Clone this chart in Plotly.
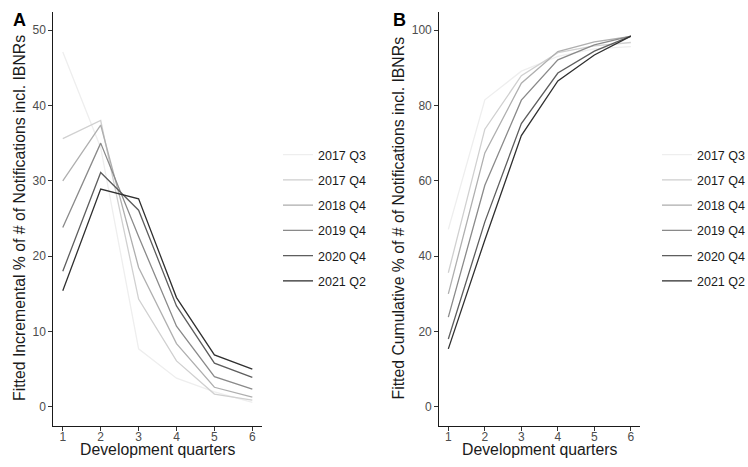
import plotly.graph_objects as go

# ---- data ----
dev_quarters = [1, 2, 3, 4, 5, 6]
cohorts = ["2017 Q3", "2017 Q4", "2018 Q4", "2019 Q4", "2020 Q4", "2021 Q2"]

# Panel A: fitted incremental %
inc_2017_q3 = [47.1, 34.4, 7.7, 3.8, 2.0, 0.6]
inc_2017_q4 = [35.6, 38.0, 14.3, 6.1, 1.7, 0.9]
inc_2018_q4 = [30.0, 37.4, 18.5, 8.4, 2.6, 1.3]
inc_2019_q4 = [23.8, 35.0, 22.6, 10.7, 4.0, 2.35]
inc_2020_q4 = [18.0, 31.1, 26.1, 13.4, 5.8, 3.9]
inc_2021_q2 = [15.4, 28.9, 27.6, 14.5, 6.9, 5.0]

# Panel B: fitted cumulative %
cum_2017_q3 = [47.1, 81.5, 89.1, 93.0, 95.0, 95.6]
cum_2017_q4 = [35.6, 73.7, 87.9, 94.0, 95.8, 96.7]
cum_2018_q4 = [30.0, 67.4, 85.9, 94.3, 96.9, 98.3]
cum_2019_q4 = [23.8, 58.8, 81.4, 92.1, 96.1, 98.4]
cum_2020_q4 = [18.0, 49.1, 75.2, 88.6, 94.4, 98.4]
cum_2021_q2 = [15.4, 44.3, 72.0, 86.5, 93.4, 98.4]

incremental = [inc_2017_q3, inc_2017_q4, inc_2018_q4, inc_2019_q4, inc_2020_q4, inc_2021_q2]
cumulative = [cum_2017_q3, cum_2017_q4, cum_2018_q4, cum_2019_q4, cum_2020_q4, cum_2021_q2]

inc_ticks = [0, 10, 20, 30, 40, 50]
cum_ticks = [0, 20, 40, 60, 80, 100]

# ---- style ----
W, H = 748, 467
FONT = "Liberation Sans, Arial, Helvetica, sans-serif"
colors = ["#EEEEEE", "#D0D0D0", "#AFAFAF", "#8A8A8A", "#5E5E5E", "#303030"]

def px_x(p):
    return p / W

def px_y(p):
    return (H - p) / H

fig = go.Figure()
for i, name in enumerate(cohorts):
    fig.add_trace(go.Scatter(
        x=dev_quarters, y=incremental[i], mode="lines", name=name,
        line=dict(color=colors[i], width=1.3),
        xaxis="x", yaxis="y", legend="legend", legendgroup=f"a{i}",
    ))
for i, name in enumerate(cohorts):
    fig.add_trace(go.Scatter(
        x=dev_quarters, y=cumulative[i], mode="lines", name=name,
        line=dict(color=colors[i], width=1.3),
        xaxis="x2", yaxis="y2", legend="legend2", legendgroup=f"b{i}",
    ))

axis_common = dict(
    showline=True, linecolor="#1a1a1a", linewidth=1.1,
    ticks="outside", ticklen=4, tickwidth=1, tickcolor="#333333",
    showgrid=False, zeroline=False, automargin=False,
    tickfont=dict(family=FONT, size=12, color="#4D4D4D"),
)
xaxis_extra = dict(ticklabelstandoff=-4)

ydom = [px_y(425.7), px_y(12)]

legend_common = dict(
    xanchor="left", yanchor="top", bgcolor="rgba(0,0,0,0)",
    font=dict(family=FONT, size=12.5, color="#1a1a1a"),
    tracegroupgap=6, borderwidth=0,
)

fig.update_layout(
    width=W, height=H,
    margin=dict(l=0, r=0, t=0, b=0, autoexpand=False),
    paper_bgcolor="white", plot_bgcolor="white",
    font=dict(family=FONT),
    xaxis=dict(domain=[px_x(53.3), px_x(261.8)], range=[0.75, 6.25],
               tickvals=dev_quarters, anchor="y", **axis_common, **xaxis_extra),
    yaxis=dict(domain=ydom, range=[-2.5, 52.4], tickvals=inc_ticks,
               anchor="x", **axis_common),
    xaxis2=dict(domain=[px_x(439.2), px_x(640)], range=[0.75, 6.25],
                tickvals=dev_quarters, anchor="y2", **axis_common, **xaxis_extra),
    yaxis2=dict(domain=ydom, range=[-5, 104.8], tickvals=cum_ticks,
                anchor="x2", **axis_common),
    legend=dict(x=px_x(278), y=px_y(140), **legend_common),
    legend2=dict(x=px_x(657), y=px_y(140), **legend_common),
)

title_font = dict(family=FONT, size=15.8, color="#1a1a1a")
annotations = [
    dict(text="<b>A</b>", x=px_x(11), y=px_y(20), xanchor="left", yanchor="middle",
         font=dict(family=FONT, size=18, color="black")),
    dict(text="<b>B</b>", x=px_x(391), y=px_y(20), xanchor="left", yanchor="middle",
         font=dict(family=FONT, size=18, color="black")),
    dict(text="Fitted Incremental % of # of Notifications incl. IBNRs",
         x=px_x(19), y=px_y(218), textangle=-90, xanchor="center", yanchor="middle",
         font=title_font),
    dict(text="Fitted Cumulative % of # of Notifications incl. IBNRs",
         x=px_x(397.5), y=px_y(218), textangle=-90, xanchor="center", yanchor="middle",
         font=title_font),
    dict(text="Development quarters", x=px_x(157.5), y=px_y(449),
         xanchor="center", yanchor="middle", font=title_font),
    dict(text="Development quarters", x=px_x(539.6), y=px_y(449),
         xanchor="center", yanchor="middle", font=title_font),
]
for a in annotations:
    a.update(xref="paper", yref="paper", showarrow=False)
fig.update_layout(annotations=annotations)

fig.write_html(
    "out.html",
    config={"displayModeBar": False},
    post_script="document.body.style.margin='0';document.body.style.padding='0';",
)
